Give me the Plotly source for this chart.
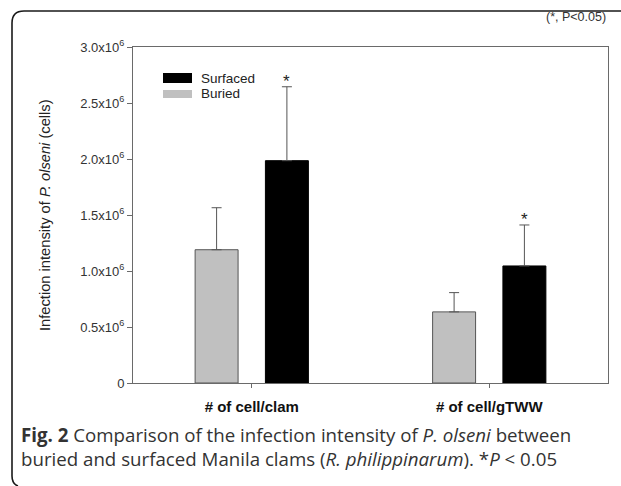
import plotly.graph_objects as go

# ---- data ----
categories = ["# of cell/clam", "# of cell/gTWW"]
series_names = ["Buried", "Surfaced"]
buried = [1.19e6, 0.635e6]
buried_err = [0.375e6, 0.172e6]
surfaced = [1.985e6, 1.045e6]
surfaced_err = [0.66e6, 0.366e6]
surfaced_sig = [True, True]
y_tickvals = [0, 0.5e6, 1.0e6, 1.5e6, 2.0e6, 2.5e6, 3.0e6]
y_ticktext = ["0", "0.5x10<sup>6</sup>", "1.0x10<sup>6</sup>", "1.5x10<sup>6</sup>",
              "2.0x10<sup>6</sup>", "2.5x10<sup>6</sup>", "3.0x10<sup>6</sup>"]

W, H = 621, 486
L, R, T, B = 133, 608, 47, 383  # plot area in pixels


def px(x):
    return (x - L) / (R - L)


def py(y):
    return (B - y) / (B - T)


FONT = "Liberation Sans, Arial, sans-serif"
GRAY = "#c0c0c0"
EDGE = "#555555"
FRAME = "#6a6a6a"
BW = 0.181
OFF = 0.148

fig = go.Figure()
fig.add_trace(go.Bar(
    x=list(range(len(categories))), y=buried, name=series_names[0],
    width=BW, offset=-OFF - BW / 2,
    marker=dict(color=GRAY, line=dict(color=EDGE, width=1)),
    error_y=dict(type="data", symmetric=False, array=buried_err,
                 arrayminus=[0] * len(buried), color=EDGE, thickness=1, width=5),
    showlegend=False,
))
fig.add_trace(go.Bar(
    x=list(range(len(categories))), y=surfaced, name=series_names[1],
    width=BW, offset=OFF - BW / 2,
    marker=dict(color="#000000", line=dict(color="#000000", width=1)),
    error_y=dict(type="data", symmetric=False, array=surfaced_err,
                 arrayminus=[0] * len(surfaced), color=EDGE, thickness=1, width=5),
    showlegend=False,
))

annotations = []
for i, sig in enumerate(surfaced_sig):
    if sig:
        annotations.append(dict(
            x=i + OFF, y=surfaced[i] + surfaced_err[i], xref="x", yref="y",
            text="*", showarrow=False, yanchor="bottom", yshift=-6,
            font=dict(family=FONT, size=17, color="#222")))

# custom legend
shapes = []
legend_items = [(series_names[1], "#000000", 73, 83, 78),
                (series_names[0], GRAY, 90, 98, 94)]
for name, col, y0, y1, yc in legend_items:
    shapes.append(dict(type="rect", xref="paper", yref="paper",
                       x0=px(163), x1=px(192), y0=py(y1), y1=py(y0),
                       fillcolor=col, line=dict(width=0)))
    annotations.append(dict(x=px(199), y=py(yc), xref="paper", yref="paper",
                            text=name, showarrow=False, xanchor="left",
                            yanchor="middle",
                            font=dict(family=FONT, size=13.5, color="#222")))

# rounded outer frame
path = (f"M {px(621)},{py(11)} L {px(24)},{py(11)} "
        f"Q {px(12)},{py(11)} {px(12)},{py(23)} "
        f"L {px(12)},{py(476)} Q {px(12)},{py(484)} {px(18)},{py(486)}")
shapes.append(dict(type="path", xref="paper", yref="paper", path=path,
                   line=dict(color="#1a1a1a", width=1.6)))

annotations.append(dict(x=1.0, y=py(17), xref="paper", yref="paper",
                        text="(*, P<0.05)", showarrow=False, xanchor="right",
                        yanchor="middle",
                        font=dict(family=FONT, size=12.5, color="#333")))
annotations.append(dict(x=px(45), y=0.5, xref="paper", yref="paper",
                        text="Infection intensity of <i>P. olseni</i> (cells)",
                        textangle=-90, showarrow=False, xanchor="center",
                        yanchor="middle",
                        font=dict(family=FONT, size=14.7, color="#222")))
annotations.append(dict(x=px(19), y=py(446), xref="paper", yref="paper",
                        text=("<b>Fig. 2</b> Comparison of the infection intensity of "
                              "<i>P. olseni</i> between<br>buried and surfaced Manila clams "
                              "(<i>R. philippinarum</i>). *<i>P</i> &lt; 0.05"),
                        showarrow=False, xanchor="left", yanchor="middle",
                        align="left",
                        font=dict(family="Open Sans, Noto Sans, sans-serif",
                                  size=18.7, color="#333")))

fig.update_layout(
    width=W, height=H,
    margin=dict(l=L, r=W - R, t=T, b=H - B, pad=0),
    paper_bgcolor="white", plot_bgcolor="white",
    barmode="overlay",
    shapes=shapes, annotations=annotations,
    xaxis=dict(range=[-0.5, 1.5], tickvals=list(range(len(categories))),
               ticktext=categories, ticks="outside", ticklen=4,
               ticklabelstandoff=6,
               tickcolor=FRAME, showline=True, linecolor=FRAME, linewidth=1,
               mirror=True, showgrid=False, zeroline=False,
               tickfont=dict(family=FONT, size=15, color="#111", weight="bold"),
               fixedrange=True),
    yaxis=dict(range=[0, 3.0e6], tickvals=y_tickvals, ticktext=y_ticktext,
               ticks="outside", ticklen=5, tickcolor=FRAME, showline=True,
               linecolor=FRAME, linewidth=1, mirror=True, showgrid=False,
               zeroline=False,
               tickfont=dict(family=FONT, size=13, color="#333"),
               fixedrange=True),
)

fig.write_html("out.html",
               config={"displayModeBar": False, "staticPlot": True},
               post_script="document.body.style.margin='0px';"
                           "document.body.style.overflow='hidden';")
